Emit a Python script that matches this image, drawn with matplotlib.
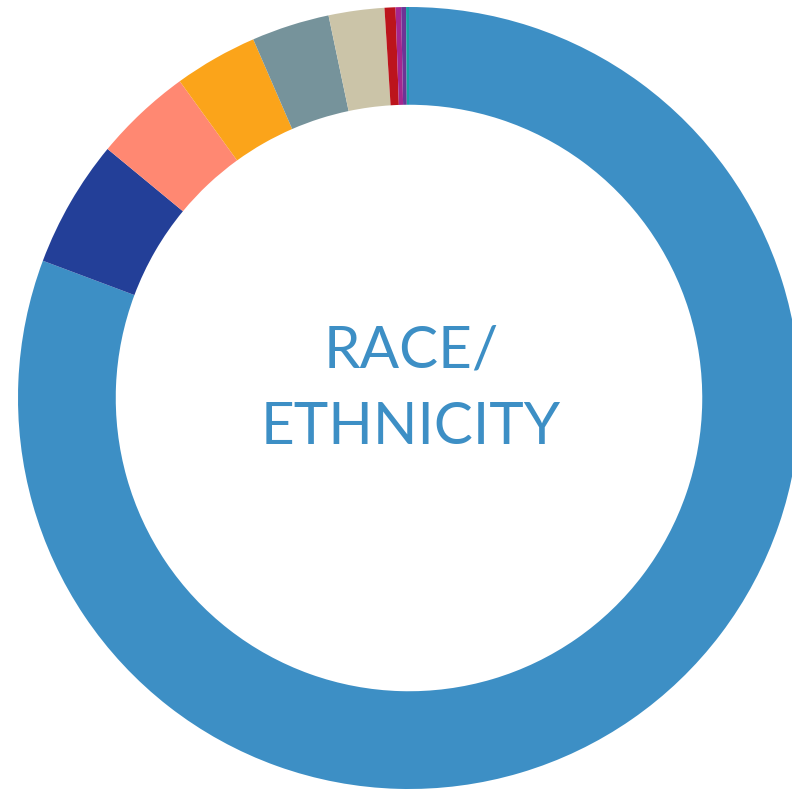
import matplotlib.pyplot as plt

# Race/ethnicity shares (percent), clockwise from 12 o'clock
groups = ['White', 'Black', 'Hispanic', 'Asian', 'Two or more races', 'Unknown',
          'Nonresident alien', 'American Indian', 'Pacific Islander', 'Other']
shares = [80.7, 5.28, 4.04, 3.45, 3.22, 2.3, 0.45, 0.23, 0.2, 0.12]
colors = ['#3d8fc5', '#233f98', '#ff8872', '#fba41a', '#76939b', '#cbc4a8',
          '#bc141c', '#a5278f', '#6c3596', '#18a0a8']

fig = plt.figure(figsize=(7.92, 7.90), dpi=100)
ax = fig.add_axes([0, 0, 1, 1])

ax.pie(shares, colors=colors, startangle=90, counterclock=False,
       radius=1.0, wedgeprops=dict(width=0.25, linewidth=0),
       center=(0, 0))

# place the ring like the original: centre at (409, 398) px, radius 391 px
r_px = 391
ax.set_xlim(-409 / r_px, (792 - 409) / r_px)
ax.set_ylim(-(790 - 398) / r_px, 398 / r_px)
ax.set_aspect('auto')
ax.axis('off')

ax.text(0.005, 0.12, 'RACE/', ha='center', va='center', fontsize=42,
        color='#3d8fc5', family='Lato', fontweight='normal')
ax.text(0.005, -0.075, 'ETHNICITY', ha='center', va='center', fontsize=42,
        color='#3d8fc5', family='Lato', fontweight='normal')

fig.savefig('out.png', dpi=100)
